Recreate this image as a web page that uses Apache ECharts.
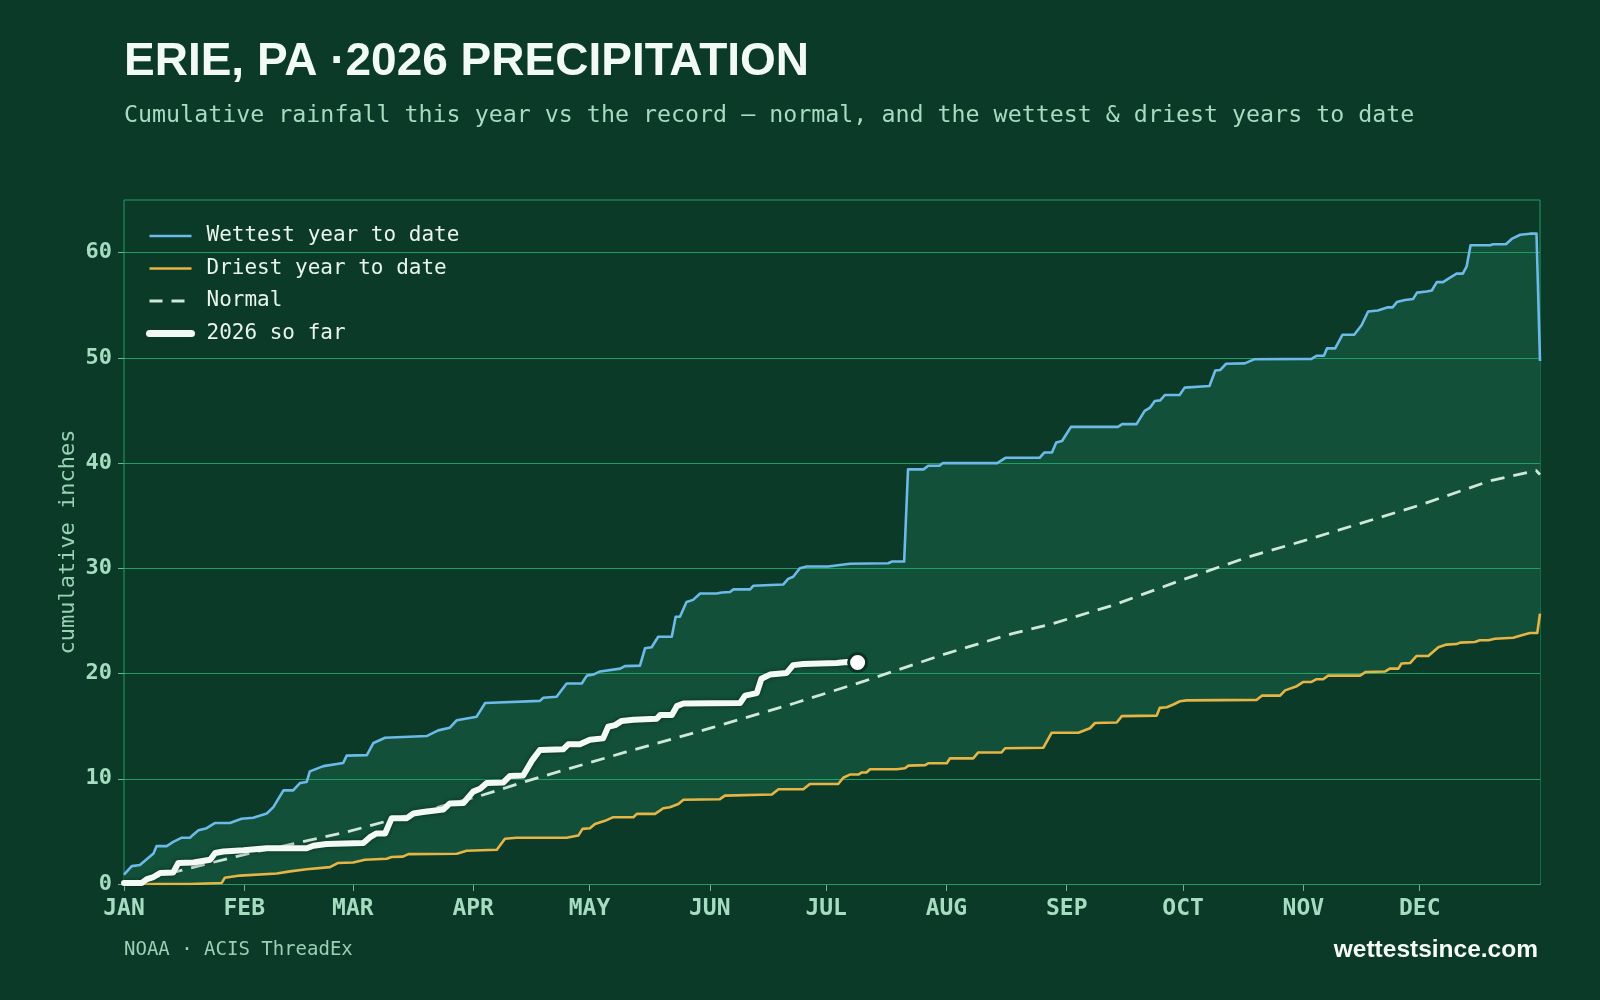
<!DOCTYPE html>
<html>
<head>
<meta charset="utf-8">
<script src="https://cdn.jsdelivr.net/npm/echarts@6/dist/echarts.min.js"></script>
<style>
html,body{margin:0;padding:0;background:#0b3a29;}
#chart{width:1600px;height:1000px;}
</style>
</head>
<body>
<div id="chart"></div>
<script>
// ---- axis categories / ticks ----
const monthStarts = [0, 31, 59, 90, 120, 151, 181, 212, 243, 273, 304, 334];
const monthLabels = ['JAN','FEB','MAR','APR','MAY','JUN','JUL','AUG','SEP','OCT','NOV','DEC'];
const yTicks = [0, 10, 20, 30, 40, 50, 60];

// ---- series: [day of year, cumulative inches] ----
const wettest = [[0,0.9],[2.0,1.7],[4.1,1.8],[7.6,2.9],[8.4,3.6],[11.0,3.6],[12.7,4.0],[14.9,4.4],[17.0,4.4],[17.9,4.7],[19.2,5.1],[21.3,5.3],[23.5,5.8],[27.3,5.8],[30.3,6.2],[33.3,6.3],[36.8,6.7],[38.5,7.3],[41.1,8.9],[43.6,8.9],[45.4,9.6],[47.1,9.7],[47.9,10.7],[51.4,11.2],[56.5,11.5],[57.4,12.2],[62.6,12.25],[64.3,13.4],[67.3,13.9],[78.0,14.06],[81.0,14.6],[84.0,14.85],[85.8,15.57],[90.9,15.9],[93.1,17.2],[107.2,17.4],[108.1,17.7],[111.5,17.8],[114.1,19.05],[118.0,19.05],[119.3,19.8],[121.0,19.9],[122.7,20.2],[127.9,20.47],[129.1,20.7],[133.0,20.75],[134.3,22.4],[136.0,22.5],[137.7,23.5],[141.2,23.5],[142.2,25.4],[143.3,25.4],[145.0,26.8],[146.7,27.0],[148.5,27.6],[152.8,27.6],[154.1,27.7],[156.2,27.75],[157.1,28.0],[161.4,28.0],[162.2,28.34],[169.9,28.46],[171.2,29.0],[172.5,29.2],[174.2,30.0],[176.0,30.17],[181.5,30.17],[182.0,30.33],[187.1,30.43],[197.0,30.48],[197.9,30.64],[201.1,30.64],[202.1,39.4],[206.1,39.4],[207.3,39.75],[210.2,39.75],[211.1,40.0],[225.1,40.0],[227.2,40.5],[236.0,40.5],[237.2,41.0],[239.2,41.0],[240.3,41.95],[241.8,42.1],[244.1,43.44],[256.2,43.44],[257.3,43.7],[261.0,43.7],[263.1,44.96],[264.5,45.27],[265.7,45.9],[267.1,45.96],[268.3,46.47],[272.1,46.47],[273.4,47.17],[279.8,47.33],[281.3,48.8],[282.6,48.85],[284.1,49.44],[288.9,49.47],[291.3,49.86],[306.1,49.9],[307.4,50.2],[309.3,50.2],[310.1,50.9],[312.2,50.9],[314.1,52.2],[317.1,52.2],[319.0,53.1],[320.7,54.4],[323.2,54.5],[325.8,54.8],[327.0,54.8],[328.1,55.3],[330.2,55.5],[332.3,55.6],[333.3,56.2],[335.8,56.3],[337.1,56.4],[338.4,57.2],[340.0,57.2],[341.3,57.5],[343.5,58.0],[345.1,58.0],[346.1,58.7],[347.1,60.7],[352.1,60.7],[352.9,60.8],[356.2,60.8],[357.7,61.3],[359.9,61.7],[362.4,61.8],[364.1,61.8],[365,49.7]];

const driest = [[0,0],[17.0,0],[25.2,0.1],[26.0,0.6],[29.9,0.8],[39.4,1.0],[42.8,1.2],[47.1,1.4],[53.1,1.6],[55.2,2.0],[59.1,2.05],[62.1,2.3],[67.7,2.4],[69.0,2.56],[71.9,2.6],[73.3,2.84],[85.8,2.87],[88.3,3.16],[96.1,3.25],[98.2,4.3],[101.2,4.4],[114.1,4.4],[117.1,4.6],[118.2,5.24],[120.1,5.3],[121.4,5.7],[124.0,6.0],[126.1,6.35],[131.3,6.35],[132.2,6.66],[136.9,6.66],[139.0,7.2],[140.7,7.3],[142.9,7.6],[144.2,8.0],[153.6,8.06],[154.9,8.4],[167.0,8.5],[168.7,9.0],[175.1,9.0],[176.8,9.5],[184.1,9.5],[185.4,10.1],[187.1,10.4],[189.3,10.4],[190.2,10.6],[191.4,10.6],[192.3,10.9],[199.2,10.9],[201.3,11.0],[202.2,11.25],[206.5,11.3],[207.3,11.47],[212.1,11.47],[212.9,11.94],[218.9,11.94],[220.2,12.5],[226.2,12.5],[227.1,12.9],[237.0,12.95],[239.1,14.37],[246.0,14.37],[249.0,14.8],[250.3,15.3],[255.9,15.35],[257.2,15.95],[266.2,16.0],[267.0,16.74],[268.8,16.8],[270.5,17.06],[272.2,17.37],[273.9,17.45],[292.0,17.5],[293.3,17.9],[298.0,17.9],[299.3,18.4],[302.3,18.8],[304.0,19.2],[306.1,19.2],[307.4,19.46],[309.1,19.46],[310.4,19.8],[318.6,19.8],[320.1,20.15],[325.1,20.2],[326.3,20.47],[328.5,20.47],[329.3,20.95],[331.5,21.0],[333.2,21.67],[336.2,21.67],[338.8,22.5],[340.9,22.75],[343.5,22.8],[344.4,22.94],[348.2,23.0],[349.5,23.16],[351.7,23.16],[353.4,23.3],[358.1,23.4],[360.3,23.63],[362.4,23.85],[364.3,23.85],[365,25.7]];

const normal = [[0,0],[5,0.4],[31,2.8],[57,4.9],[82,7.4],[92,8.4],[104,9.8],[129,12.5],[152,14.9],[173,17.2],[191,19.3],[212,21.9],[229,23.8],[239,24.7],[255,26.5],[272,28.8],[290,31.1],[304,32.6],[334,36.0],[352,38.3],[364,39.3],[365,38.9]];

const thisYear = [[0,0.1],[4.6,0.1],[5.9,0.47],[7.6,0.66],[9.3,1.04],[12.7,1.1],[14.0,2.0],[17.9,2.05],[22.2,2.3],[23.5,2.94],[25.6,3.09],[30.8,3.2],[36.8,3.4],[47.1,3.4],[48.8,3.63],[52.2,3.8],[61.7,3.9],[63.4,4.45],[65.1,4.8],[67.3,4.8],[69.0,6.26],[72.9,6.26],[74.6,6.7],[77.1,6.85],[82.3,7.07],[84.0,7.66],[87.5,7.7],[90.0,8.78],[91.8,9.05],[93.5,9.6],[97.8,9.65],[99.5,10.27],[102.9,10.3],[105.1,11.7],[107.2,12.74],[113.2,12.8],[114.5,13.27],[117.5,13.27],[120.1,13.7],[123.5,13.84],[124.8,14.94],[126.6,15.1],[128.3,15.5],[131.3,15.6],[137.3,15.7],[138.2,16.05],[141.2,16.05],[142.5,16.9],[144.2,17.15],[158.8,17.2],[160.1,17.9],[163.1,18.14],[164.3,19.5],[166.5,19.9],[170.8,20.06],[172.5,20.8],[175.1,20.9],[183.7,21.0],[186.3,21.1],[189.1,21.05]];

const seriesNames = ['Wettest year to date', 'Driest year to date', 'Normal', '2026 so far'];

// ---- styling ----
const BG = '#0b3a29', BAND = '#12503a', GRID = '#1f9d66';
const BLUE = '#6db9e8', ORANGE = '#e6b545', NORMAL = '#cfe8d8', WHITE = '#f3faf5', LABEL = '#a6dcbf';
const MONO = '"DejaVu Sans Mono", monospace';
const SANS = '"Liberation Sans", Arial, sans-serif';
const NORMAL_DASH = [14, 9];

const chart = echarts.init(document.getElementById('chart'), null, {renderer: 'canvas', width: 1600, height: 1000});

const option = {
  backgroundColor: BG,
  animation: false,
  grid: {left: 124, right: 60, top: 200, bottom: 116, show: true, borderColor: GRID, borderWidth: 1, backgroundColor: 'transparent'},
  legend: {
    data: [
      {name: seriesNames[0], lineStyle: {color: BLUE, width: 2.6}},
      {name: seriesNames[1], lineStyle: {color: ORANGE, width: 2.6}},
      {name: seriesNames[2], lineStyle: {color: NORMAL, width: 3, type: [13, 9]}},
      {name: seriesNames[3], lineStyle: {color: WHITE, width: 7, cap: 'round'}}
    ],
    orient: 'vertical',
    left: 141, top: 220,
    itemWidth: 42, itemHeight: 14, itemGap: 10.5,
    itemStyle: {opacity: 0},
    textStyle: {color: '#e8f4ec', fontFamily: MONO, fontSize: 21, lineHeight: 22, padding: [0, 0, 0, 10]}
  },
  xAxis: {
    type: 'value', min: 0, max: 365,
    axisLine: {show: true, lineStyle: {color: GRID, width: 2}},
    axisTick: {show: true, customValues: monthStarts, length: 7, lineStyle: {color: '#6fb592'}},
    axisLabel: {customValues: monthStarts, formatter: v => monthLabels[monthStarts.indexOf(v)] || '',
      color: LABEL, fontFamily: MONO, fontWeight: 'bold', fontSize: 23, margin: 14},
    splitLine: {show: false}
  },
  yAxis: {
    type: 'value', min: 0, max: 65, interval: 10, z: 3,
    axisLine: {show: false},
    axisTick: {show: true, customValues: yTicks, length: 6, lineStyle: {color: '#6fb592'}},
    axisLabel: {customValues: yTicks, formatter: v => String(v), color: LABEL, fontFamily: MONO, fontWeight: 'bold', fontSize: 22, margin: 12},
    splitLine: {show: true, lineStyle: {color: GRID, width: 1}}
  },
  graphic: [
    {type: 'text', silent: true, style: {text: 'ERIE, PA ·2026 PRECIPITATION', x: 124, y: 62, align: 'left', verticalAlign: 'middle', fill: '#f2faf5', font: 'bold 46px ' + SANS}},
    {type: 'text', silent: true, style: {text: 'Cumulative rainfall this year vs the record — normal, and the wettest & driest years to date', x: 124, y: 116, align: 'left', verticalAlign: 'middle', fill: LABEL, font: '23.3px ' + MONO}},
    {type: 'text', silent: true, x: 68, y: 542, rotation: Math.PI / 2,
      style: {text: 'cumulative inches', x: 0, y: 0, align: 'center', verticalAlign: 'middle', fill: '#98d3b4', font: '22px ' + MONO}},
    {type: 'text', silent: true, style: {text: 'NOAA · ACIS ThreadEx', x: 124, y: 950, align: 'left', verticalAlign: 'middle', fill: '#9ccfb3', font: '19px ' + MONO}},
    {type: 'text', silent: true, style: {text: 'wettestsince.com', x: 1538, y: 950, align: 'right', verticalAlign: 'middle', fill: '#f6fbf8', font: 'bold 24.5px ' + SANS}}
  ],
  series: [
    {name: 'wetFill', type: 'line', data: wettest, symbol: 'none', silent: true, z: 1,
      lineStyle: {width: 0}, areaStyle: {color: BAND, opacity: 1}},
    {name: 'dryFill', type: 'line', data: driest, symbol: 'none', silent: true, z: 2,
      lineStyle: {width: 0}, areaStyle: {color: BG, opacity: 1}},
    {name: seriesNames[0], type: 'line', data: wettest, symbol: 'none', z: 4,
      color: BLUE, lineStyle: {color: BLUE, width: 2.6, join: 'round'}},
    {name: seriesNames[1], type: 'line', data: driest, symbol: 'none', z: 4,
      color: ORANGE, lineStyle: {color: ORANGE, width: 2.6, join: 'round'}},
    {name: seriesNames[2], type: 'line', data: normal, symbol: 'none', z: 5,
      color: NORMAL, lineStyle: {color: NORMAL, width: 2.8, type: NORMAL_DASH}},
    {name: seriesNames[3], type: 'line', data: thisYear, symbol: 'none', z: 6,
      color: WHITE, lineStyle: {color: WHITE, width: 6, cap: 'round', join: 'round', shadowColor: 'rgba(0,0,0,0.45)', shadowBlur: 4}},
    {name: 'today', type: 'scatter', data: [thisYear[thisYear.length - 1]], z: 7,
      symbol: 'circle', symbolSize: 18,
      itemStyle: {color: '#ffffff', opacity: 1, borderColor: '#0a3224', borderWidth: 3}}
  ]
};
chart.setOption(option);
</script>
</body>
</html>
